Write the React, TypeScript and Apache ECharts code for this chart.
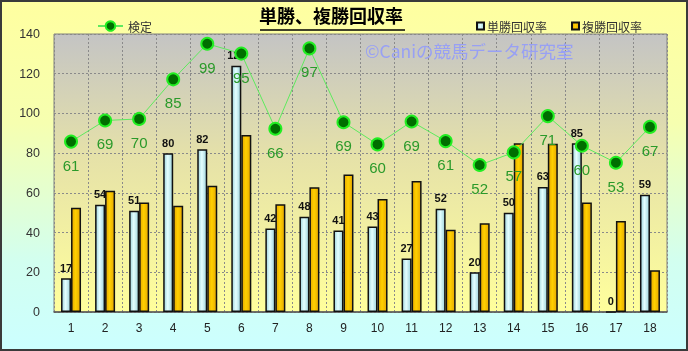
import React, { useEffect, useRef } from "react";
import * as echarts from "echarts";

const categories = ["1", "2", "3", "4", "5", "6", "7", "8", "9", "10", "11", "12", "13", "14", "15", "16", "17", "18"];
const tanshoReturn = [17, 54, 51, 80, 82, 124, 42, 48, 41, 43, 27, 52, 20, 50, 63, 85, 0, 59];
const fukushoReturn = [52.5, 61.1, 55.2, 53.5, 63.6, 89.1, 54.2, 62.8, 69.3, 56.9, 66, 41.4, 44.7, 85, 84.7, 55.2, 45.8, 21];
const kenteiValues = [61.2, 69.4, 70.0, 85.4, 99.2, 95.4, 66.2, 97.4, 68.7, 60.1, 69.0, 61.4, 52.1, 57.0, 71.1, 59.6, 53.0, 66.9];
const yTicks = [0, 20, 40, 60, 80, 100, 120, 140];

const JP = '"Noto Sans CJK JP", sans-serif';
const NUM = '"Liberation Sans", Arial, sans-serif';

export default function App() {
  const ref = useRef<HTMLDivElement>(null);
  useEffect(() => {
    if (!ref.current) return;
    const chart = echarts.init(ref.current, null, { renderer: "svg" });
    const blueGrad = {
      type: "linear", x: 0, y: 0, x2: 1, y2: 0,
      colorStops: [
        { offset: 0, color: "#9FD3DC" },
        { offset: 0.45, color: "#E4FFFF" },
        { offset: 1, color: "#9FD3DC" },
      ],
    };
    const goldGrad = {
      type: "linear", x: 0, y: 0, x2: 1, y2: 0,
      colorStops: [
        { offset: 0, color: "#E6A800" },
        { offset: 0.45, color: "#FFD000" },
        { offset: 1, color: "#E6A800" },
      ],
    };
    chart.setOption({
      animation: false,
      graphic: [
        {
          type: "rect",
          z: -10,
          silent: true,
          shape: { x: 1, y: 1, width: 686, height: 349 },
          style: {
            fill: {
              type: "linear", x: 0, y: 0, x2: 0, y2: 1,
              colorStops: [
                { offset: 0, color: "#FFFFA0" },
                { offset: 0.35, color: "#F6FFB0" },
                { offset: 0.75, color: "#D2FFF0" },
                { offset: 1, color: "#CCFFFF" },
              ],
            },
            stroke: "#3A3A3A",
            lineWidth: 2,
          },
        },
        {
          type: "line",
          silent: true,
          shape: { x1: 260, y1: 30, x2: 405, y2: 30 },
          style: { stroke: "#000", lineWidth: 1.5 },
        },
        {
          type: "text",
          silent: true,
          z: 1,
          x: 365,
          y: 42,
          style: {
            text: "©Caniの競馬データ研究室",
            font: `17.5px ${JP}`,
            fill: "#98A0F4",
          },
        },
      ],
      title: {
        text: "単勝、複勝回収率",
        left: 259,
        top: 6,
        padding: 0,
        textStyle: { fontFamily: JP, fontSize: 18, fontWeight: "bold", color: "#000" },
      },
      legend: [
        {
          data: ["検定"],
          left: 92,
          top: 15,
          itemWidth: 25,
          itemHeight: 12,
          itemGap: 10,
          textStyle: { fontFamily: JP, fontSize: 12, color: "#333" },
        },
        {
          data: ["単勝回収率", "複勝回収率"],
          left: 471,
          top: 15,
          icon: "rect",
          itemWidth: 7,
          itemHeight: 7,
          itemGap: 24,
          textStyle: { fontFamily: JP, fontSize: 12, color: "#333", padding: [0, 0, 0, -2] },
        },
      ],
      grid: {
        left: 54,
        right: 21,
        top: 34,
        bottom: 39,
        show: true,
        borderColor: "#808080",
        borderWidth: 1,
        backgroundColor: {
          type: "linear", x: 0, y: 0, x2: 0, y2: 1,
          colorStops: [
            { offset: 0, color: "#C4C4C4" },
            { offset: 0.45, color: "#E6E2A8" },
            { offset: 1, color: "#FFFF9C" },
          ],
        },
      },
      xAxis: {
        type: "category",
        data: categories,
        axisLine: { lineStyle: { color: "#555", width: 1.5 } },
        axisTick: { show: false },
        axisLabel: { fontFamily: NUM, fontSize: 12, color: "#222", margin: 10 },
        splitLine: { show: true, lineStyle: { color: "#8A8A8A", type: [2, 2], width: 1 } },
      },
      yAxis: [
        {
          type: "value",
          min: 0,
          max: 140,
          interval: 20,
          axisLine: { show: false },
          axisTick: { show: false },
          axisLabel: {
            fontFamily: NUM, fontSize: 12.5, color: "#333", margin: 14,
            formatter: (v: number) => (yTicks.includes(v) ? String(v) : ""),
          },
          splitLine: { show: true, lineStyle: { color: "#8A8A8A", type: [2, 2], width: 1 } },
        },
        {
          type: "value",
          min: -5,
          max: 103,
          show: false,
          splitLine: { show: false },
        },
      ],
      series: [
        {
          name: "単勝回収率",
          type: "bar",
          data: tanshoReturn,
          barWidth: 10,
          barGap: "0%",
          z: 2,
          itemStyle: { color: blueGrad, borderColor: "#111", borderWidth: 1.5 },
          label: {
            show: true,
            position: "top",
            distance: 5,
            fontFamily: NUM,
            fontSize: 11,
            fontWeight: "bold",
            color: "#111",
          },
        },
        {
          name: "複勝回収率",
          type: "bar",
          data: fukushoReturn,
          barWidth: 10,
          z: 2,
          itemStyle: { color: goldGrad, borderColor: "#111", borderWidth: 1.5 },
        },
        {
          name: "検定",
          type: "line",
          yAxisIndex: 1,
          data: kenteiValues,
          z: 5,
          symbol: "circle",
          symbolSize: 12,
          lineStyle: { color: "#5EEA5E", width: 1 },
          itemStyle: { color: "#006E00", borderColor: "#22EE22", borderWidth: 2 },
          label: {
            show: true,
            position: "bottom",
            distance: 9,
            fontFamily: NUM,
            fontSize: 15,
            color: "#2A9A2A",
            formatter: (p: any) => String(Math.round(p.value)),
          },
        },
      ],
    });
    return () => chart.dispose();
  }, []);
  return <div ref={ref} style={{ position: "fixed", left: 0, top: 0, width: 688, height: 351 }} />;
}
